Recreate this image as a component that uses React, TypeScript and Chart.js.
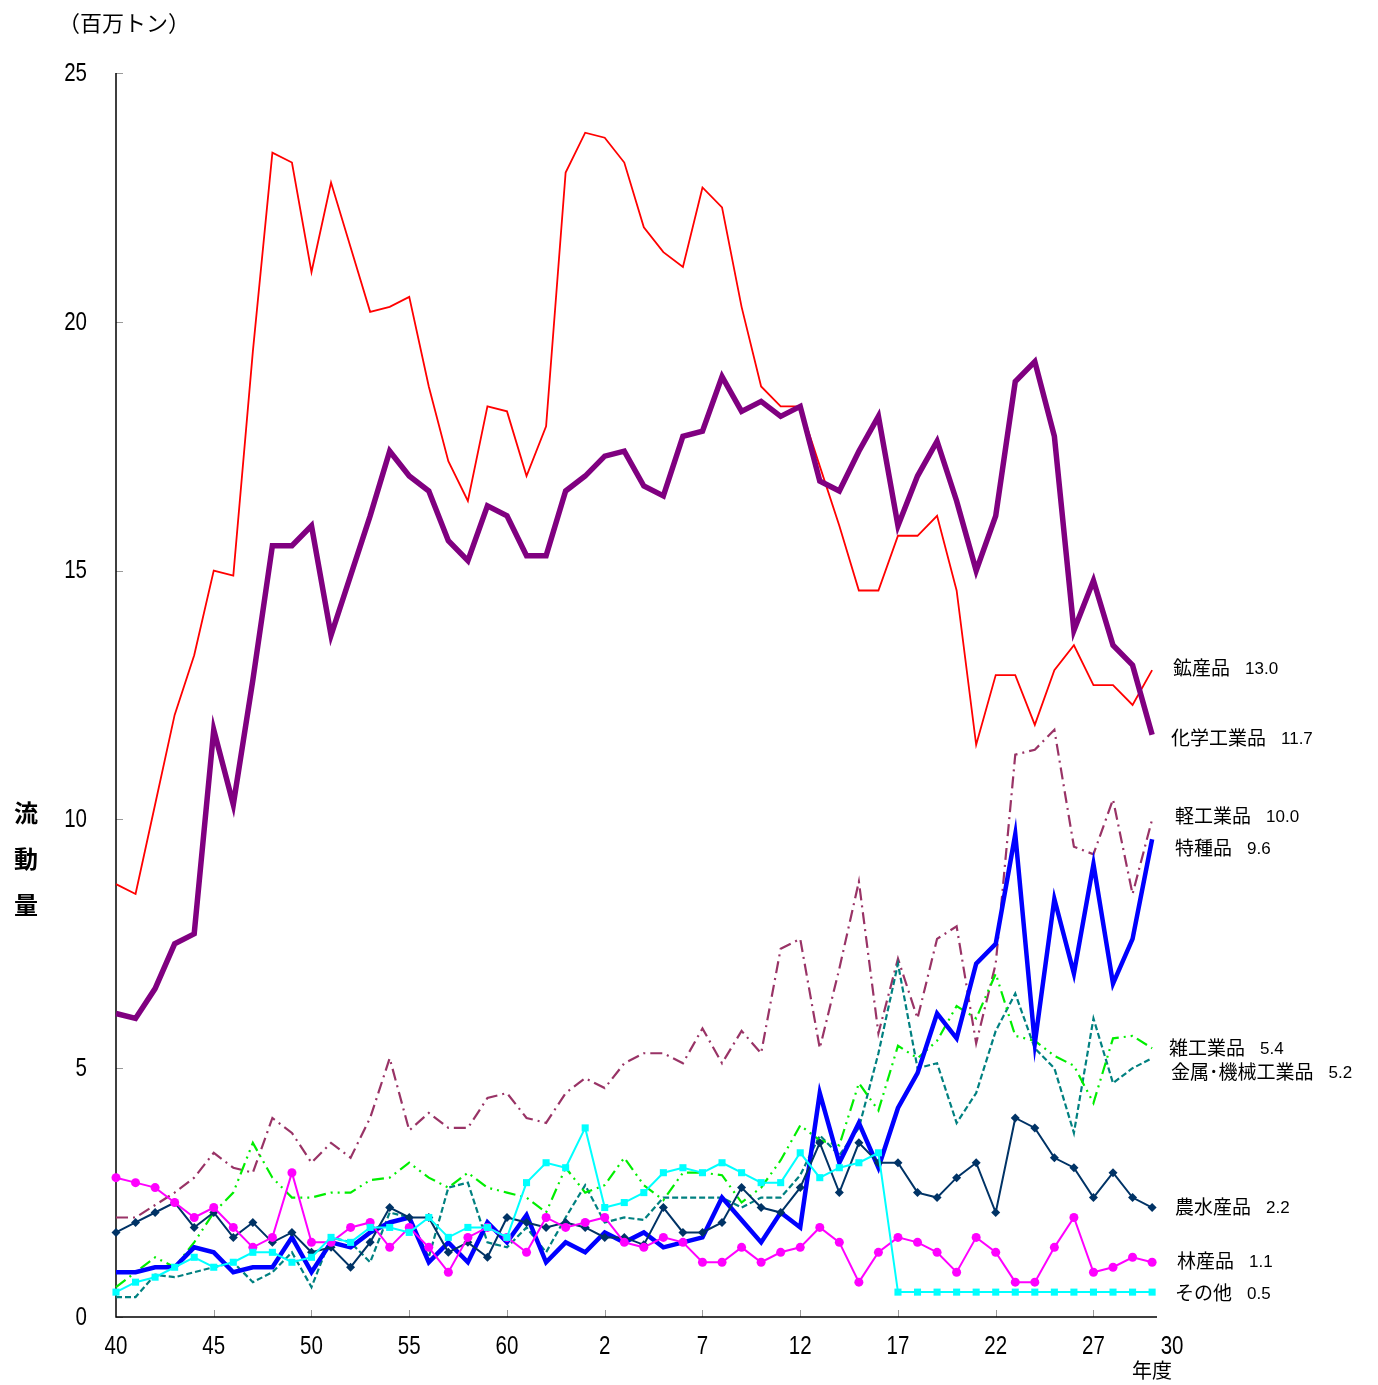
import React, { useEffect, useRef } from 'react';
import { Chart, registerables } from 'chart.js';

Chart.register(...registerables);

// 年度 (昭和40〜63, 平成元〜30)
const categories = [
  '40', '41', '42', '43', '44', '45', '46', '47', '48', '49',
  '50', '51', '52', '53', '54', '55', '56', '57', '58', '59',
  '60', '61', '62', '63', '元', '2', '3', '4', '5', '6',
  '7', '8', '9', '10', '11', '12', '13', '14', '15', '16',
  '17', '18', '19', '20', '21', '22', '23', '24', '25', '26',
  '27', '28', '29', '30',
];
const xTickLabels = ['40', '45', '50', '55', '60', '2', '7', '12', '17', '22', '27', '30'];
const yTickValues = [0, 5, 10, 15, 20, 25];

const mining = [
  8.7, 8.5, 10.3, 12.1, 13.3, 15.0, 14.9, 19.4, 23.4, 23.2,
  21.0, 22.8, 21.5, 20.2, 20.3, 20.5, 18.7, 17.2, 16.4, 18.3,
  18.2, 16.9, 17.9, 23.0, 23.8, 23.7, 23.2, 21.9, 21.4, 21.1,
  22.7, 22.3, 20.3, 18.7, 18.3, 18.3, 17.1, 15.9, 14.6, 14.6,
  15.7, 15.7, 16.1, 14.6, 11.5, 12.9, 12.9, 11.9, 13.0, 13.5,
  12.7, 12.7, 12.3, 13.0,
];
const chemical = [
  6.1, 6.0, 6.6, 7.5, 7.7, 11.8, 10.3, 12.8, 15.5, 15.5,
  15.9, 13.7, 14.9, 16.1, 17.4, 16.9, 16.6, 15.6, 15.2, 16.3,
  16.1, 15.3, 15.3, 16.6, 16.9, 17.3, 17.4, 16.7, 16.5, 17.7,
  17.8, 18.9, 18.2, 18.4, 18.1, 18.3, 16.8, 16.6, 17.4, 18.1,
  15.9, 16.9, 17.6, 16.4, 15.0, 16.1, 18.8, 19.2, 17.7, 13.8,
  14.8, 13.5, 13.1, 11.7,
];
const lightIndustry = [
  2.0, 2.0, 2.25, 2.5, 2.8, 3.3, 3.0, 2.9, 4.0, 3.7,
  3.1, 3.5, 3.2, 4.0, 5.2, 3.75, 4.1, 3.8, 3.8, 4.4,
  4.5, 4.0, 3.9, 4.5, 4.8, 4.6, 5.1, 5.3, 5.3, 5.1,
  5.8, 5.1, 5.75, 5.3, 7.4, 7.6, 5.4, 7.0, 8.75, 5.7,
  7.2, 6.0, 7.6, 7.85, 5.5, 7.1, 11.3, 11.4, 11.8, 9.45,
  9.3, 10.4, 8.5, 10.0,
];
const special = [
  0.9, 0.9, 1.0, 1.0, 1.4, 1.3, 0.9, 1.0, 1.0, 1.6,
  0.9, 1.5, 1.4, 1.7, 1.9, 2.0, 1.1, 1.5, 1.1, 1.9,
  1.5, 2.05, 1.1, 1.5, 1.3, 1.7, 1.5, 1.7, 1.4, 1.5,
  1.6, 2.4, 1.95, 1.5, 2.1, 1.8, 4.5, 3.1, 3.9, 3.0,
  4.2, 4.9, 6.1, 5.6, 7.1, 7.5, 9.7, 5.5, 8.4, 6.9,
  9.1, 6.7, 7.6, 9.6,
];
const miscIndustry = [
  0.6, 0.9, 1.2, 1.0, 1.5, 2.1, 2.5, 3.5, 2.8, 2.4,
  2.4, 2.5, 2.5, 2.75, 2.8, 3.1, 2.8, 2.6, 2.9, 2.6,
  2.5, 2.4, 2.1, 3.0, 2.5, 2.65, 3.2, 2.65, 2.35, 2.9,
  2.9, 2.85, 2.3, 2.6, 3.15, 3.85, 3.55, 3.45, 4.7, 4.15,
  5.45, 5.2, 5.55, 6.25, 6.0, 6.9, 5.65, 5.55, 5.25, 5.05,
  4.3, 5.6, 5.65, 5.4,
];
const metalMachinery = [
  0.4, 0.4, 0.85, 0.8, 0.9, 1.0, 1.1, 0.7, 0.9, 1.3,
  0.6, 1.6, 1.5, 1.1, 2.1, 2.0, 1.2, 2.6, 2.7, 1.5,
  1.4, 1.8, 1.3, 2.0, 2.65, 1.9, 2.0, 1.95, 2.4, 2.4,
  2.4, 2.4, 2.2, 2.4, 2.4, 2.85, 3.65, 3.25, 3.8, 5.3,
  7.1, 5.0, 5.1, 3.9, 4.5, 5.75, 6.5, 5.4, 5.0, 3.7,
  6.0, 4.7, 5.0, 5.2,
];
const agriculture = [
  1.7, 1.9, 2.1, 2.3, 1.8, 2.1, 1.6, 1.9, 1.5, 1.7,
  1.3, 1.4, 1.0, 1.5, 2.2, 2.0, 2.0, 1.3, 1.5, 1.2,
  2.0, 1.9, 1.8, 1.9, 1.8, 1.6, 1.6, 1.45, 2.2, 1.7,
  1.7, 1.9, 2.6, 2.2, 2.1, 2.6, 3.5, 2.5, 3.5, 3.1,
  3.1, 2.5, 2.4, 2.8, 3.1, 2.1, 4.0, 3.8, 3.2, 3.0,
  2.4, 2.9, 2.4, 2.2,
];
const forestry = [
  2.8, 2.7, 2.6, 2.3, 2.0, 2.2, 1.8, 1.4, 1.6, 2.9,
  1.5, 1.5, 1.8, 1.9, 1.4, 1.8, 1.4, 0.9, 1.6, 1.8,
  1.6, 1.3, 2.0, 1.8, 1.9, 2.0, 1.5, 1.4, 1.6, 1.5,
  1.1, 1.1, 1.4, 1.1, 1.3, 1.4, 1.8, 1.5, 0.7, 1.3,
  1.6, 1.5, 1.3, 0.9, 1.6, 1.3, 0.7, 0.7, 1.4, 2.0,
  0.9, 1.0, 1.2, 1.1,
];
const others = [
  0.5, 0.7, 0.8, 1.0, 1.2, 1.0, 1.1, 1.3, 1.3, 1.1,
  1.2, 1.6, 1.5, 1.8, 1.8, 1.7, 2.0, 1.6, 1.8, 1.8,
  1.6, 2.7, 3.1, 3.0, 3.8, 2.2, 2.3, 2.5, 2.9, 3.0,
  2.9, 3.1, 2.9, 2.7, 2.7, 3.3, 2.8, 3.0, 3.1, 3.3,
  0.5, 0.5, 0.5, 0.5, 0.5, 0.5, 0.5, 0.5, 0.5, 0.5,
  0.5, 0.5, 0.5, 0.5,
];

const seriesNames = [
  '鉱産品', '化学工業品', '軽工業品', '特種品', '雑工業品',
  '金属･機械工業品', '農水産品', '林産品', 'その他',
];
const seriesValues = [
  mining, chemical, lightIndustry, special, miscIndustry,
  metalMachinery, agriculture, forestry, others,
];

// styling / layout (not data)
const styles = [
  { color: '#FF0000', width: 1.8, dash: [], point: false, order: 9 },
  { color: '#800080', width: 5.5, dash: [], point: false, order: 8 },
  { color: '#993366', width: 2.2, dash: [12, 5, 2, 5], point: false, order: 7 },
  { color: '#0000FF', width: 4.5, dash: [], point: false, order: 4 },
  { color: '#00EE00', width: 2.2, dash: [12, 5, 2, 5, 2, 5], point: false, order: 5 },
  { color: '#008080', width: 2.2, dash: [6, 3], point: false, order: 6 },
  { color: '#003366', width: 2, dash: [], point: 'rectRot', radius: 4.5, order: 3 },
  { color: '#FF00FF', width: 2, dash: [], point: 'circle', radius: 4.5, order: 2 },
  { color: '#00FFFF', width: 2, dash: [], point: 'rect', radius: 5, order: 1 },
];
const labelPos = [
  { x: 1173, y: 668 }, { x: 1171, y: 738 }, { x: 1175, y: 816 }, { x: 1175, y: 848 },
  { x: 1169, y: 1048 }, { x: 1171, y: 1072 }, { x: 1175, y: 1207 }, { x: 1177, y: 1261 },
  { x: 1175, y: 1293 },
];

const W = 1378;
const H = 1385;
const PLOT = { left: 116, right: 1157, top: 73, bottom: 1317 };
const CJK = '"Noto Sans CJK JP", sans-serif';
const NUM = '"Liberation Sans", Arial, sans-serif';

function condensedText(ctx: CanvasRenderingContext2D, text: string, x: number, y: number, align: 'left' | 'center' | 'right', sx: number) {
  ctx.save();
  ctx.translate(x, y);
  ctx.scale(sx, 1);
  ctx.textAlign = align;
  ctx.fillText(text, 0, 0);
  ctx.restore();
}

const axesPlugin = {
  id: 'customAxes',
  beforeDatasetsDraw(chart: any) {
    const { ctx, chartArea, scales } = chart;
    const x = scales.x;
    const y = scales.y;
    ctx.save();
    ctx.strokeStyle = '#9a9a9a';
    ctx.lineWidth = 1;
    ctx.beginPath();
    yTickValues.forEach((v) => {
      const py = Math.round(y.getPixelForValue(v)) + 0.5;
      ctx.moveTo(chartArea.left, py);
      ctx.lineTo(chartArea.left + 7, py);
    });
    xTickLabels.forEach((l, k) => {
      if (k === 0 || l === '30') return;
      const idx = categories.indexOf(l);
      const px = Math.round(x.getPixelForValue(idx)) + 0.5;
      ctx.moveTo(px, chartArea.bottom);
      ctx.lineTo(px, chartArea.bottom - 7);
    });
    ctx.stroke();
    ctx.strokeStyle = '#000';
    ctx.lineWidth = 1.5;
    ctx.beginPath();
    ctx.moveTo(chartArea.left, chartArea.top);
    ctx.lineTo(chartArea.left, chartArea.bottom);
    ctx.lineTo(chartArea.right, chartArea.bottom);
    ctx.stroke();
    ctx.restore();
  },
  afterDraw(chart: any) {
    const { ctx, chartArea, scales } = chart;
    const x = scales.x;
    const y = scales.y;
    ctx.save();
    ctx.fillStyle = '#000';
    ctx.textBaseline = 'middle';
    // y tick labels
    ctx.font = `25px ${NUM}`;
    yTickValues.forEach((v) => {
      condensedText(ctx, String(v), chartArea.left - 29, y.getPixelForValue(v) + 1, 'right', 0.82);
    });
    // x tick labels
    xTickLabels.forEach((l) => {
      const idx = categories.indexOf(l);
      let px = x.getPixelForValue(idx);
      if (l === '30') px += 20;
      condensedText(ctx, l, px, chartArea.bottom + 30, 'center', 0.82);
    });
    ctx.textAlign = 'center';
    ctx.font = `20px ${CJK}`;
    ctx.fillText('年度', x.getPixelForValue(categories.length - 1), chartArea.bottom + 53);
    // unit
    ctx.textAlign = 'left';
    ctx.font = `22px ${CJK}`;
    ctx.fillText('（百万トン）', 58, 23);
    // y title (vertical)
    ctx.textAlign = 'center';
    ctx.font = `bold 24px ${CJK}`;
    ['流', '動', '量'].forEach((c, i) => {
      ctx.fillText(c, 26, 813 + i * 46);
    });
    // end labels
    ctx.textAlign = 'left';
    seriesNames.forEach((name, i) => {
      const p = labelPos[i];
      ctx.font = `19px ${CJK}`;
      ctx.fillText(name, p.x, p.y);
      const w = ctx.measureText(name).width;
      ctx.font = `17px ${NUM}`;
      const vals = seriesValues[i];
      ctx.fillText(vals[vals.length - 1].toFixed(1), p.x + w + 15, p.y + 1);
    });
    ctx.restore();
  },
};

export default function App() {
  const canvasRef = useRef<HTMLCanvasElement | null>(null);

  useEffect(() => {
    const canvas = canvasRef.current;
    if (!canvas) return;
    const datasets = seriesValues.map((vals, i) => {
      const s: any = styles[i];
      return {
        label: seriesNames[i],
        data: vals.map((v, k) => ({ x: k, y: v })),
        borderColor: s.color,
        backgroundColor: s.color,
        borderWidth: s.width,
        borderDash: s.dash,
        pointStyle: s.point || 'circle',
        pointRadius: s.point ? s.radius : 0,
        pointBorderWidth: 0,
        pointHoverRadius: 0,
        borderJoinStyle: 'miter' as const,
        tension: 0,
        fill: false,
        clip: false as any,
        order: s.order,
      };
    });
    const chart = new Chart(canvas, {
      type: 'line',
      data: { datasets },
      options: {
        animation: false,
        responsive: false,
        maintainAspectRatio: false,
        devicePixelRatio: 1,
        layout: {
          padding: {
            left: PLOT.left,
            right: W - PLOT.right,
            top: PLOT.top,
            bottom: H - PLOT.bottom,
          },
        },
        scales: {
          x: { type: 'linear', min: 0, max: 53.25, display: false },
          y: { type: 'linear', min: 0, max: 25, display: false },
        },
        plugins: {
          legend: { display: false },
          tooltip: { enabled: false },
        },
        events: [],
      },
      plugins: [axesPlugin],
    });
    return () => chart.destroy();
  }, []);

  return (
    <div style={{ position: 'absolute', left: 0, top: 0, width: W, height: H, background: '#fff' }}>
      <canvas ref={canvasRef} width={W} height={H} style={{ display: 'block', width: W, height: H }} />
    </div>
  );
}
